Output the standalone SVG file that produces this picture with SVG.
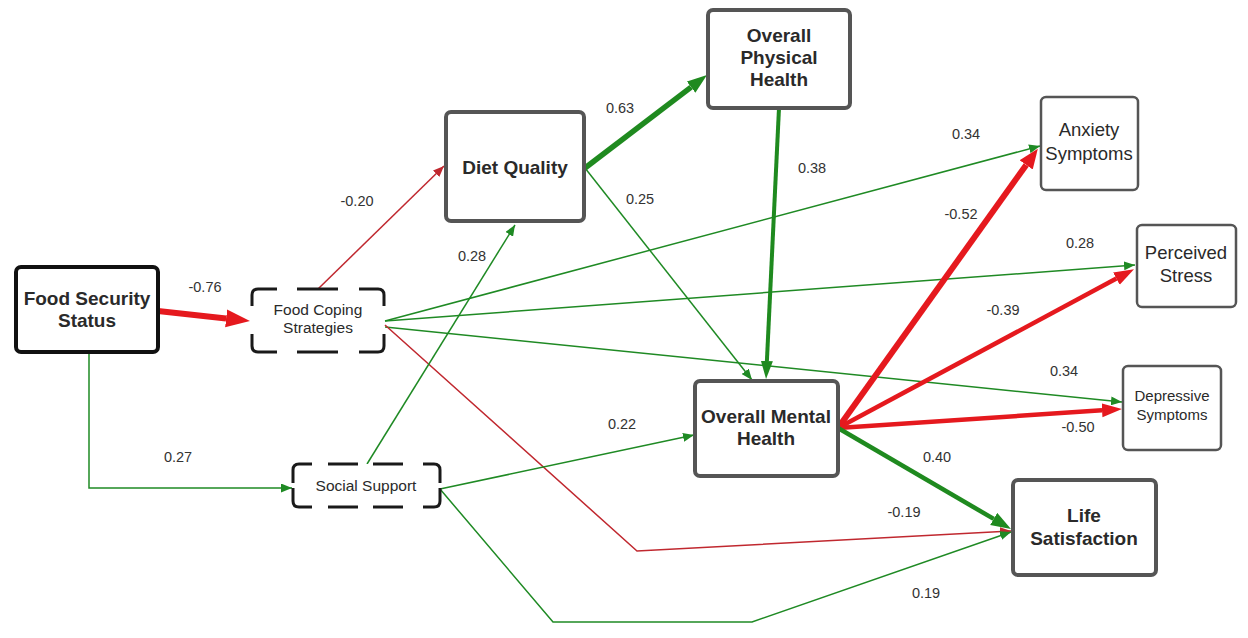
<svg xmlns="http://www.w3.org/2000/svg" width="1248" height="638" viewBox="0 0 1248 638">
<defs>
<style>
text{font-family:"Liberation Sans",Arial,sans-serif;fill:#2a2a2a;text-anchor:middle}
.lbl{font-size:14.5px;fill:#333}
.b{font-weight:bold;font-size:19px}
.n18{font-size:18.5px}
.n15{font-size:15.5px}
.box{fill:#fff;stroke:#555;stroke-width:4}
.boxk{fill:#fff;stroke:#111;stroke-width:4}
.boxt{fill:#fff;stroke:#555;stroke-width:2.5}
.bg{fill:#fff;stroke:none}
.dash{fill:none;stroke:#1a1a1a;stroke-width:3;stroke-linecap:butt}
.gt{fill:none;stroke:#1f8a24;stroke-width:1.5}
.rt{fill:none;stroke:#c0282f;stroke-width:1.5}
.gk{fill:none;stroke:#1f8a1f}
.rk{fill:none;stroke:#e5191e}
</style>
<marker id="gs" markerUnits="userSpaceOnUse" markerWidth="12" markerHeight="9" refX="11" refY="4.5" orient="auto"><path d="M0,0 L11,4.5 L0,9 z" fill="#1f8a24"/></marker>
<marker id="rs" markerUnits="userSpaceOnUse" markerWidth="12" markerHeight="9" refX="11" refY="4.5" orient="auto"><path d="M0,0 L11,4.5 L0,9 z" fill="#c0282f"/></marker>
<marker id="rb" markerUnits="userSpaceOnUse" markerWidth="25" markerHeight="19" refX="0" refY="9" orient="auto"><path d="M0,0 L24,9 L0,18 z" fill="#e5191e"/></marker>
<marker id="rm" markerUnits="userSpaceOnUse" markerWidth="22" markerHeight="17" refX="0" refY="8" orient="auto"><path d="M0,0 L20,8 L0,16 z" fill="#e5191e"/></marker>
<marker id="rm2" markerUnits="userSpaceOnUse" markerWidth="22" markerHeight="15" refX="0" refY="7" orient="auto"><path d="M0,0 L20,7 L0,14 z" fill="#e5191e"/></marker>
<marker id="gm" markerUnits="userSpaceOnUse" markerWidth="22" markerHeight="15" refX="0" refY="7" orient="auto"><path d="M0,0 L20,7 L0,14 z" fill="#1f8a1f"/></marker>
<marker id="gm2" markerUnits="userSpaceOnUse" markerWidth="20" markerHeight="13" refX="0" refY="6" orient="auto"><path d="M0,0 L18,6 L0,12 z" fill="#1f8a1f"/></marker>
</defs>
<rect width="1248" height="638" fill="#fff"/>

<g id="connectors">
<path class="gt" d="M385,321 L1040,146" marker-end="url(#gs)"/>
<path class="gt" d="M385,321 L1135,265" marker-end="url(#gs)"/>
<path class="gt" d="M385,327 L1122,402" marker-end="url(#gs)"/>
<path class="rt" d="M385,325 L637,551 L1011,531" marker-end="url(#rs)"/>
<path class="gt" d="M440,489 L553,622 L752,622 L1011,532" marker-end="url(#gs)"/>
<path class="gt" d="M440,489 L694,435" marker-end="url(#gs)"/>
<path class="gt" d="M89,352 V488 H292" marker-end="url(#gs)"/>
<path class="rt" d="M318,289 L444,166" marker-end="url(#rs)"/>
<path class="gt" d="M367,464 L515,225" marker-end="url(#gs)"/>
<path class="gt" d="M585,168 L752,380" marker-end="url(#gs)"/>
<path class="rk" stroke-width="6" d="M158,311 L226.1,318.4" marker-end="url(#rb)"/>
<path class="gk" stroke-width="5.5" d="M585,168 L691.1,87.1" marker-end="url(#gm)"/>
<path class="gk" stroke-width="4" d="M779,108 L766.9,361" marker-end="url(#gm2)"/>
<path class="rk" stroke-width="6" d="M838,428 L1026.2,164.9" marker-end="url(#rm)"/>
<path class="rk" stroke-width="4.5" d="M838,428 L1116.4,278.6" marker-end="url(#rm2)"/>
<path class="rk" stroke-width="4.5" d="M838,428 L1102,410.3" marker-end="url(#rm2)"/>
<path class="gk" stroke-width="4.5" d="M838,428 L993.7,518.9" marker-end="url(#gm)"/>
</g>

<g id="labels">
<text class="lbl" x="205" y="292">-0.76</text>
<text class="lbl" x="178" y="462">0.27</text>
<text class="lbl" x="357" y="206">-0.20</text>
<text class="lbl" x="472" y="261">0.28</text>
<text class="lbl" x="620" y="113">0.63</text>
<text class="lbl" x="640" y="204">0.25</text>
<text class="lbl" x="812" y="173">0.38</text>
<text class="lbl" x="966" y="139">0.34</text>
<text class="lbl" x="961" y="219">-0.52</text>
<text class="lbl" x="1080" y="248">0.28</text>
<text class="lbl" x="1003" y="315">-0.39</text>
<text class="lbl" x="1064" y="376">0.34</text>
<text class="lbl" x="1078" y="432">-0.50</text>
<text class="lbl" x="622" y="429">0.22</text>
<text class="lbl" x="937" y="462">0.40</text>
<text class="lbl" x="904" y="517">-0.19</text>
<text class="lbl" x="926" y="598">0.19</text>
</g>

<g id="food-security-status">
<rect class="boxk" x="16" y="267" width="142" height="85" rx="5"/>
<text class="b" x="87" y="305">Food Security</text>
<text class="b" x="87" y="327">Status</text>
</g>
<g id="food-coping-strategies">
<rect class="bg" x="252" y="289" width="132" height="63"/>
<path class="dash" d="M252,306 V295 Q252,289 258,289 H277 M297,289 H338 M359,289 H378 Q384,289 384,295 V306 M384,334 V346 Q384,352 378,352 H359 M338,352 H297 M277,352 H258 Q252,352 252,346 V334"/>
<text class="n15" x="318" y="315">Food Coping</text>
<text class="n15" x="318" y="333">Strategies</text>
</g>
<g id="social-support">
<rect class="bg" x="293" y="464" width="147" height="43"/>
<path class="dash" d="M293,483 V470 Q293,464 299,464 H312 M328,464 H358 M373,464 H403 M423,464 H434 Q440,464 440,470 V483 M440,488 V501 Q440,507 434,507 H423 M403,507 H373 M358,507 H328 M312,507 H299 Q293,507 293,501 V488"/>
<text class="n15" x="366" y="491">Social Support</text>
</g>
<g id="diet-quality">
<rect class="box" x="446" y="112" width="138" height="109" rx="5"/>
<text class="b" x="515" y="174">Diet Quality</text>
</g>
<g id="overall-physical-health">
<rect class="box" x="708" y="10" width="142" height="98" rx="5"/>
<text class="b" x="779" y="42">Overall</text>
<text class="b" x="779" y="64">Physical</text>
<text class="b" x="779" y="86">Health</text>
</g>
<g id="anxiety-symptoms">
<rect class="boxt" x="1041" y="97" width="97" height="93" rx="5"/>
<text class="n18" x="1089" y="136">Anxiety</text>
<text class="n18" x="1089" y="160">Symptoms</text>
</g>
<g id="perceived-stress">
<rect class="boxt" x="1137" y="225" width="99" height="82" rx="5"/>
<text class="n18" x="1186" y="259">Perceived</text>
<text class="n18" x="1186" y="282">Stress</text>
</g>
<g id="depressive-symptoms">
<rect class="boxt" x="1123" y="366" width="98" height="84" rx="5"/>
<text class="n15" x="1172" y="401" style="font-size:15px">Depressive</text>
<text class="n15" x="1172" y="420" style="font-size:15px">Symptoms</text>
</g>
<g id="overall-mental-health">
<rect class="box" x="695" y="381" width="143" height="95" rx="5"/>
<text class="b" x="766" y="423">Overall Mental</text>
<text class="b" x="766" y="445">Health</text>
</g>
<g id="life-satisfaction">
<rect class="box" x="1013" y="480" width="143" height="95" rx="5"/>
<text class="b" x="1084" y="522">Life</text>
<text class="b" x="1084" y="545">Satisfaction</text>
</g>
</svg>
